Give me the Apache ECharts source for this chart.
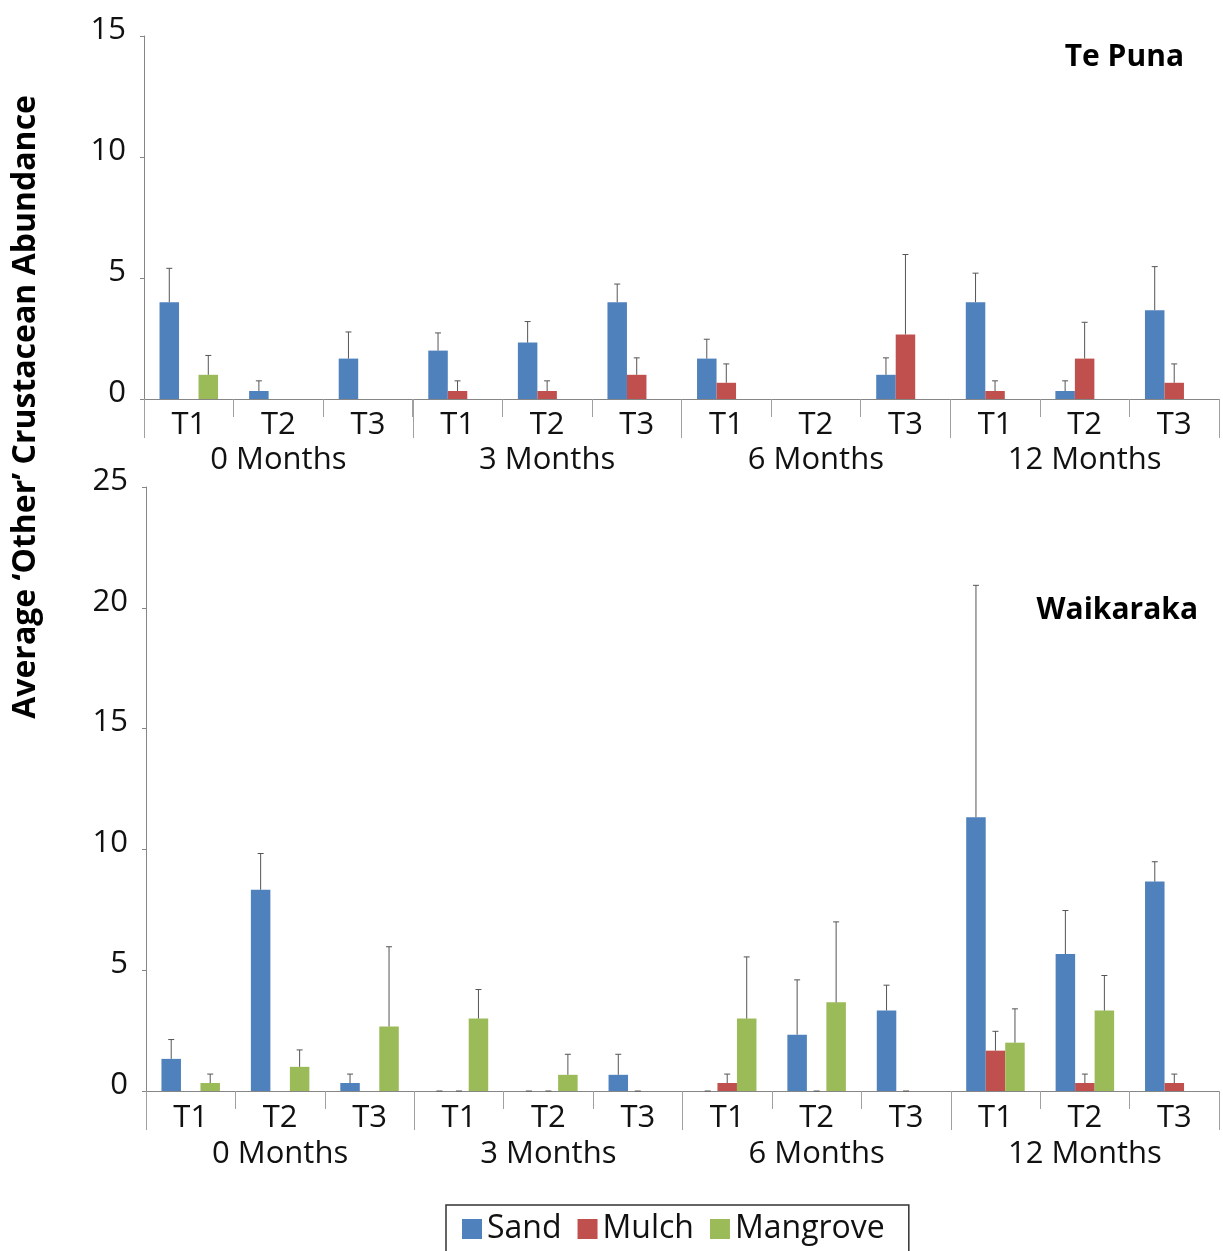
<!DOCTYPE html>
<html>
<head>
<meta charset="utf-8">
<script src="https://cdn.jsdelivr.net/npm/echarts@6/dist/echarts.min.js"></script>
<style>
html, body { margin: 0; padding: 0; background: #fff; }
#main { width: 1223px; height: 1251px; }
</style>
</head>
<body>
<div id="main"></div>
<script>
// categories
var treatments = ['T1', 'T2', 'T3', 'T1', 'T2', 'T3', 'T1', 'T2', 'T3', 'T1', 'T2', 'T3'];
var months = ['0 Months', '3 Months', '6 Months', '12 Months'];
var seriesNames = ['Sand', 'Mulch', 'Mangrove'];
var colors = ['#4F81BD', '#C0504D', '#9BBB59'];

// Te Puna - means and standard errors (null = no error bar)
var tpSand     = [4.0, 0.33, 1.67, 2.0, 2.33, 4.0, 1.67, 0, 1.0, 4.0, 0.33, 3.67];
var tpSandSe   = [1.4, 0.42, 1.1, 0.73, 0.87, 0.75, 0.8, null, 0.7, 1.2, 0.42, 1.8];
var tpMulch    = [0, 0, 0, 0.33, 0.33, 1.0, 0.67, 0, 2.67, 0.33, 1.67, 0.67];
var tpMulchSe  = [null, null, null, 0.42, 0.42, 0.7, 0.78, null, 3.3, 0.42, 1.5, 0.78];
var tpMang     = [1.0, 0, 0, 0, 0, 0, 0, 0, 0, 0, 0, 0];
var tpMangSe   = [0.8, null, null, null, null, null, null, null, null, null, null, null];

// Waikaraka
var wkSand     = [1.33, 8.33, 0.33, 0, 0, 0.67, 0, 2.33, 3.33, 11.33, 5.67, 8.67];
var wkSandSe   = [0.8, 1.5, 0.37, 0, 0, 0.85, 0, 2.27, 1.05, 9.6, 1.8, 0.82];
var wkMulch    = [0, 0, 0, 0, 0, 0, 0.33, 0, 0, 1.67, 0.33, 0.33];
var wkMulchSe  = [null, null, null, 0, 0, 0, 0.37, 0, 0, 0.8, 0.37, 0.37];
var wkMang     = [0.33, 1.0, 2.67, 3.0, 0.67, 0, 3.0, 3.67, 0, 2.0, 3.33, 0];
var wkMangSe   = [0.37, 0.7, 3.3, 1.2, 0.85, null, 2.55, 3.33, null, 1.4, 1.45, null];

var BAR_W = 19.5;
var FONT = '"Open Sans", "Liberation Sans", sans-serif';

var myChart = echarts.init(document.getElementById('main'));

function errSeries(name, means, ses, idx, axis) {
	var data = [];
	for (var i = 0; i < means.length; i++) {
		if (ses[i] !== null) data.push([i, means[i], means[i] + ses[i]]);
	}
	return {
		name: name + ' err',
		type: 'custom',
		xAxisIndex: axis,
		yAxisIndex: axis / 2,
		z: 5,
		silent: true,
		data: data,
		renderItem: function (params, api) {
			var c = api.value(0);
			var p0 = api.coord([c, api.value(1)]);
			var p1 = api.coord([c, api.value(2)]);
			var x = p0[0] + (idx - 1) * BAR_W;
			var st = { stroke: '#555', lineWidth: 1 };
			return {
				type: 'group',
				children: [
					{ type: 'line', shape: { x1: x, y1: p0[1], x2: x, y2: p1[1] }, style: st },
					{ type: 'line', shape: { x1: x - 3, y1: p1[1], x2: x + 3, y2: p1[1] }, style: st }
				]
			};
		}
	};
}

function barSeries(name, values, idx, axis) {
	return {
		name: name,
		type: 'bar',
		xAxisIndex: axis,
		yAxisIndex: axis / 2,
		barWidth: BAR_W,
		barGap: '0%',
		itemStyle: { color: colors[idx] },
		data: values
	};
}

function tAxis(grid, m) {
	return {
		type: 'category',
		gridIndex: grid,
		data: treatments,
		axisLine: { lineStyle: { color: '#868686', width: 1 } },
		axisTick: { show: true, interval: 0, length: 18, lineStyle: { color: '#a0a0a0' } },
		axisLabel: { interval: 0, fontSize: 31, fontFamily: FONT, color: '#111', margin: m }
	};
}

function mAxis(grid, m) {
	return {
		type: 'category',
		gridIndex: grid,
		position: 'bottom',
		data: months,
		axisLine: { show: false },
		axisTick: { show: true, interval: 0, length: 39, lineStyle: { color: '#a0a0a0' } },
		axisLabel: { interval: 0, fontSize: 31, fontFamily: FONT, color: '#111', margin: m }
	};
}

function vAxis(grid, max) {
	return {
		type: 'value',
		gridIndex: grid,
		min: 0,
		max: max,
		interval: 5,
		axisLine: { show: true, lineStyle: { color: '#868686', width: 1 } },
		axisTick: { show: true, length: 4, lineStyle: { color: '#868686' } },
		splitLine: { show: false },
		axisLabel: { fontSize: 31, fontFamily: FONT, color: '#111', margin: 18, verticalAlign: 'bottom', lineHeight: 12 }
	};
}

var option = {
	animation: false,
	backgroundColor: '#fff',
	textStyle: { fontFamily: FONT },
	title: [
		{ text: 'Te Puna', right: 34, top: 37, textStyle: { fontSize: 30, fontWeight: 'bold', color: '#000', fontFamily: FONT } },
		{ text: 'Waikaraka', right: 20, top: 590, textStyle: { fontSize: 30, fontWeight: 'bold', color: '#000', fontFamily: FONT } }
	],
	graphic: [{
		type: 'text',
		left: 10,
		top: 95,
		rotation: Math.PI / 2,
		style: {
			text: 'Average \u2018Other\u2019 Crustacean Abundance',
			font: 'bold 32px ' + FONT,
			fill: '#000'
		}
	}],
	legend: {
		data: seriesNames,
		left: 446,
		top: 1205,
		orient: 'horizontal',
		icon: 'rect',
		itemWidth: 20,
		itemHeight: 20,
		itemGap: 16,
		padding: [8, 24, 14, 16],
		borderColor: '#333',
		borderWidth: 1.5,
		textStyle: { fontSize: 32, fontFamily: FONT, color: '#111' }
	},
	grid: [
		{ left: 144, right: 4, top: 36, height: 363 },
		{ left: 146, right: 4, top: 487, height: 604 }
	],
	xAxis: [tAxis(0, 11), mAxis(0, 46), tAxis(1, 12), mAxis(1, 48)],
	yAxis: [vAxis(0, 15), vAxis(1, 25)],
	series: [
		barSeries('Sand', tpSand, 0, 0),
		barSeries('Mulch', tpMulch, 1, 0),
		barSeries('Mangrove', tpMang, 2, 0),
		barSeries('Sand', wkSand, 0, 2),
		barSeries('Mulch', wkMulch, 1, 2),
		barSeries('Mangrove', wkMang, 2, 2),
		errSeries('Sand', tpSand, tpSandSe, 0, 0),
		errSeries('Mulch', tpMulch, tpMulchSe, 1, 0),
		errSeries('Mangrove', tpMang, tpMangSe, 2, 0),
		errSeries('Sand', wkSand, wkSandSe, 0, 2),
		errSeries('Mulch', wkMulch, wkMulchSe, 1, 2),
		errSeries('Mangrove', wkMang, wkMangSe, 2, 2)
	]
};
myChart.setOption(option);
</script>
</body>
</html>
